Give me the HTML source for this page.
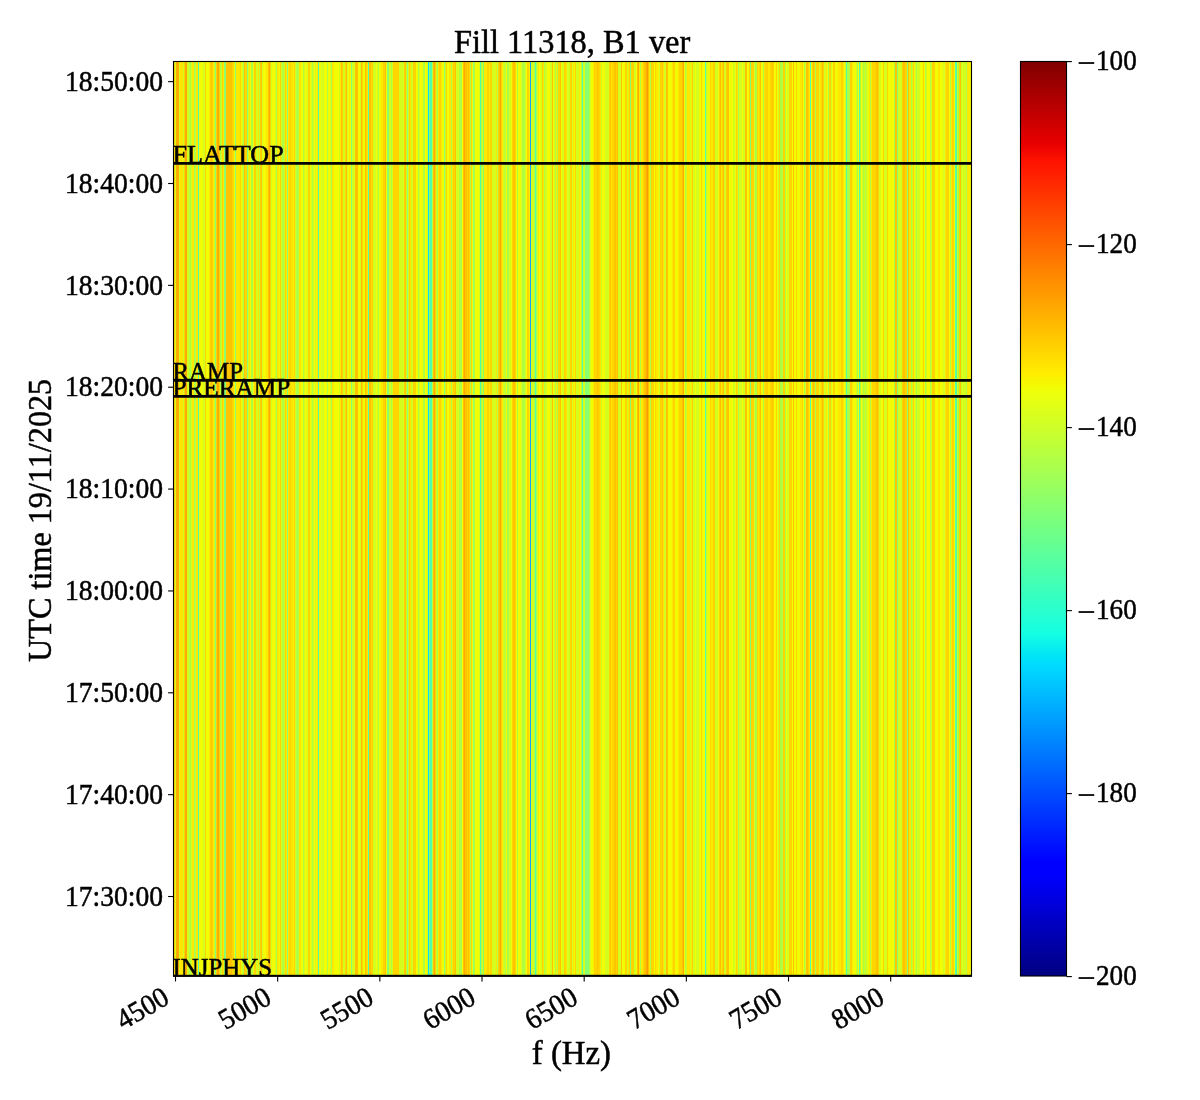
<!DOCTYPE html>
<html><head><meta charset="utf-8"><style>
html,body{margin:0;padding:0;background:#fff;}
body{width:1200px;height:1100px;overflow:hidden;position:relative;}
svg{display:block;position:absolute;left:0;top:0;font-family:"Liberation Serif", serif;}
text{fill:#000;stroke:#000;stroke-width:0.5px;}
.ov{will-change:transform;}
</style></head><body>
<svg width="1200" height="1100" viewBox="0 0 1200 1100">
<defs><linearGradient id="jet" x1="0" y1="0" x2="0" y2="1"><stop offset="0.0000" stop-color="#800000"/><stop offset="0.0900" stop-color="#e80000"/><stop offset="0.1100" stop-color="#ff1300"/><stop offset="0.3400" stop-color="#ffec00"/><stop offset="0.3500" stop-color="#f7f600"/><stop offset="0.3600" stop-color="#efff08"/><stop offset="0.6250" stop-color="#15ffe2"/><stop offset="0.6500" stop-color="#00e5f7"/><stop offset="0.6600" stop-color="#00dbff"/><stop offset="0.8750" stop-color="#0000ff"/><stop offset="0.8900" stop-color="#0000ff"/><stop offset="1.0000" stop-color="#000080"/></linearGradient></defs>
<rect x="0" y="0" width="1200" height="1100" fill="#fff"/>
<g shape-rendering="crispEdges"><rect x="174" y="62" width="1" height="913" fill="#ffd500"/><rect x="175" y="62" width="1" height="913" fill="#d4ff1e"/><rect x="176" y="62" width="3" height="913" fill="#ffac00"/><rect x="179" y="62" width="1" height="913" fill="#d4ff1e"/><rect x="180" y="62" width="3" height="913" fill="#ffe800"/><rect x="183" y="62" width="1" height="913" fill="#d4ff1e"/><rect x="184" y="62" width="1" height="913" fill="#ffd500"/><rect x="185" y="62" width="2" height="913" fill="#ffac00"/><rect x="187" y="62" width="2" height="913" fill="#d4ff1e"/><rect x="189" y="62" width="2" height="913" fill="#afff44"/><rect x="191" y="62" width="1" height="913" fill="#d4ff1e"/><rect x="192" y="62" width="2" height="913" fill="#ffe800"/><rect x="194" y="62" width="2" height="913" fill="#afff44"/><rect x="196" y="62" width="2" height="913" fill="#ffe800"/><rect x="198" y="62" width="1" height="913" fill="#50ffa8"/><rect x="199" y="62" width="4" height="913" fill="#f2fd03"/><rect x="203" y="62" width="2" height="913" fill="#d4ff1e"/><rect x="205" y="62" width="1" height="913" fill="#ffd500"/><rect x="206" y="62" width="3" height="913" fill="#f2fd03"/><rect x="209" y="62" width="1" height="913" fill="#ffe800"/><rect x="210" y="62" width="1" height="913" fill="#ffd500"/><rect x="211" y="62" width="1" height="913" fill="#ffc300"/><rect x="212" y="62" width="1" height="913" fill="#ffd500"/><rect x="213" y="62" width="1" height="913" fill="#ffe800"/><rect x="214" y="62" width="1" height="913" fill="#d4ff1e"/><rect x="215" y="62" width="1" height="913" fill="#8aff70"/><rect x="216" y="62" width="1" height="913" fill="#ffd500"/><rect x="217" y="62" width="2" height="913" fill="#ffac00"/><rect x="219" y="62" width="1" height="913" fill="#ffd500"/><rect x="220" y="62" width="1" height="913" fill="#afff44"/><rect x="221" y="62" width="1" height="913" fill="#d4ff1e"/><rect x="222" y="62" width="1" height="913" fill="#ffd500"/><rect x="223" y="62" width="1" height="913" fill="#ffe800"/><rect x="224" y="62" width="2" height="913" fill="#8aff70"/><rect x="226" y="62" width="6" height="913" fill="#ffc300"/><rect x="232" y="62" width="2" height="913" fill="#ffd500"/><rect x="234" y="62" width="1" height="913" fill="#f2fd03"/><rect x="235" y="62" width="1" height="913" fill="#8aff70"/><rect x="236" y="62" width="4" height="913" fill="#ffe800"/><rect x="240" y="62" width="1" height="913" fill="#ffd500"/><rect x="241" y="62" width="1" height="913" fill="#f2fd03"/><rect x="242" y="62" width="1" height="913" fill="#d4ff1e"/><rect x="243" y="62" width="1" height="913" fill="#afff44"/><rect x="244" y="62" width="1" height="913" fill="#ffc300"/><rect x="245" y="62" width="2" height="913" fill="#ffd500"/><rect x="247" y="62" width="1" height="913" fill="#8aff70"/><rect x="248" y="62" width="1" height="913" fill="#d4ff1e"/><rect x="249" y="62" width="1" height="913" fill="#ffe800"/><rect x="250" y="62" width="1" height="913" fill="#f2fd03"/><rect x="251" y="62" width="2" height="913" fill="#afff44"/><rect x="253" y="62" width="1" height="913" fill="#f2fd03"/><rect x="254" y="62" width="2" height="913" fill="#ffd500"/><rect x="256" y="62" width="2" height="913" fill="#d4ff1e"/><rect x="258" y="62" width="1" height="913" fill="#ffe800"/><rect x="259" y="62" width="1" height="913" fill="#afff44"/><rect x="260" y="62" width="1" height="913" fill="#ffd500"/><rect x="261" y="62" width="1" height="913" fill="#ffc300"/><rect x="262" y="62" width="1" height="913" fill="#d4ff1e"/><rect x="263" y="62" width="3" height="913" fill="#f2fd03"/><rect x="266" y="62" width="2" height="913" fill="#ffe800"/><rect x="268" y="62" width="1" height="913" fill="#ffc300"/><rect x="269" y="62" width="1" height="913" fill="#ffac00"/><rect x="270" y="62" width="1" height="913" fill="#ffd500"/><rect x="271" y="62" width="1" height="913" fill="#d4ff1e"/><rect x="272" y="62" width="3" height="913" fill="#f2fd03"/><rect x="275" y="62" width="1" height="913" fill="#d4ff1e"/><rect x="276" y="62" width="1" height="913" fill="#afff44"/><rect x="277" y="62" width="2" height="913" fill="#ffe800"/><rect x="279" y="62" width="1" height="913" fill="#f2fd03"/><rect x="280" y="62" width="1" height="913" fill="#ffd500"/><rect x="281" y="62" width="1" height="913" fill="#d4ff1e"/><rect x="282" y="62" width="2" height="913" fill="#afff44"/><rect x="284" y="62" width="1" height="913" fill="#d4ff1e"/><rect x="285" y="62" width="1" height="913" fill="#ffd500"/><rect x="286" y="62" width="1" height="913" fill="#ffe800"/><rect x="287" y="62" width="1" height="913" fill="#8aff70"/><rect x="288" y="62" width="1" height="913" fill="#ffe800"/><rect x="289" y="62" width="2" height="913" fill="#ffd500"/><rect x="291" y="62" width="3" height="913" fill="#ffe800"/><rect x="294" y="62" width="1" height="913" fill="#ffd500"/><rect x="295" y="62" width="1" height="913" fill="#d4ff1e"/><rect x="296" y="62" width="3" height="913" fill="#afff44"/><rect x="299" y="62" width="2" height="913" fill="#ffe800"/><rect x="301" y="62" width="2" height="913" fill="#f2fd03"/><rect x="303" y="62" width="1" height="913" fill="#afff44"/><rect x="304" y="62" width="1" height="913" fill="#d4ff1e"/><rect x="305" y="62" width="2" height="913" fill="#f2fd03"/><rect x="307" y="62" width="1" height="913" fill="#d4ff1e"/><rect x="308" y="62" width="2" height="913" fill="#ffd500"/><rect x="310" y="62" width="1" height="913" fill="#f2fd03"/><rect x="311" y="62" width="1" height="913" fill="#d4ff1e"/><rect x="312" y="62" width="1" height="913" fill="#afff44"/><rect x="313" y="62" width="1" height="913" fill="#d4ff1e"/><rect x="314" y="62" width="1" height="913" fill="#f2fd03"/><rect x="315" y="62" width="1" height="913" fill="#d4ff1e"/><rect x="316" y="62" width="1" height="913" fill="#f2fd03"/><rect x="317" y="62" width="1" height="913" fill="#ffe800"/><rect x="318" y="62" width="1" height="913" fill="#50ffa8"/><rect x="319" y="62" width="2" height="913" fill="#f2fd03"/><rect x="321" y="62" width="3" height="913" fill="#d4ff1e"/><rect x="324" y="62" width="3" height="913" fill="#f2fd03"/><rect x="327" y="62" width="1" height="913" fill="#afff44"/><rect x="328" y="62" width="2" height="913" fill="#f2fd03"/><rect x="330" y="62" width="1" height="913" fill="#d4ff1e"/><rect x="331" y="62" width="1" height="913" fill="#afff44"/><rect x="332" y="62" width="2" height="913" fill="#ffe800"/><rect x="334" y="62" width="5" height="913" fill="#f2fd03"/><rect x="339" y="62" width="1" height="913" fill="#d4ff1e"/><rect x="340" y="62" width="1" height="913" fill="#ffe800"/><rect x="341" y="62" width="1" height="913" fill="#ffc300"/><rect x="342" y="62" width="1" height="913" fill="#ffd500"/><rect x="343" y="62" width="2" height="913" fill="#d4ff1e"/><rect x="345" y="62" width="1" height="913" fill="#ffd500"/><rect x="346" y="62" width="1" height="913" fill="#ffc300"/><rect x="347" y="62" width="1" height="913" fill="#d4ff1e"/><rect x="348" y="62" width="1" height="913" fill="#f2fd03"/><rect x="349" y="62" width="1" height="913" fill="#ffe800"/><rect x="350" y="62" width="1" height="913" fill="#f2fd03"/><rect x="351" y="62" width="1" height="913" fill="#8aff70"/><rect x="352" y="62" width="3" height="913" fill="#d4ff1e"/><rect x="355" y="62" width="3" height="913" fill="#ffc300"/><rect x="358" y="62" width="2" height="913" fill="#f2fd03"/><rect x="360" y="62" width="1" height="913" fill="#d4ff1e"/><rect x="361" y="62" width="1" height="913" fill="#ffc300"/><rect x="362" y="62" width="1" height="913" fill="#ffd500"/><rect x="363" y="62" width="2" height="913" fill="#f2fd03"/><rect x="365" y="62" width="1" height="913" fill="#ffc300"/><rect x="366" y="62" width="1" height="913" fill="#ffd500"/><rect x="367" y="62" width="1" height="913" fill="#ffe800"/><rect x="368" y="62" width="1" height="913" fill="#50ffa8"/><rect x="369" y="62" width="2" height="913" fill="#ffc300"/><rect x="371" y="62" width="2" height="913" fill="#ffd500"/><rect x="373" y="62" width="3" height="913" fill="#d4ff1e"/><rect x="376" y="62" width="1" height="913" fill="#f2fd03"/><rect x="377" y="62" width="1" height="913" fill="#d4ff1e"/><rect x="378" y="62" width="1" height="913" fill="#afff44"/><rect x="379" y="62" width="2" height="913" fill="#f2fd03"/><rect x="381" y="62" width="2" height="913" fill="#ffe800"/><rect x="383" y="62" width="2" height="913" fill="#ffd500"/><rect x="385" y="62" width="1" height="913" fill="#ffc300"/><rect x="386" y="62" width="1" height="913" fill="#f2fd03"/><rect x="387" y="62" width="2" height="913" fill="#8aff70"/><rect x="389" y="62" width="2" height="913" fill="#d4ff1e"/><rect x="391" y="62" width="1" height="913" fill="#afff44"/><rect x="392" y="62" width="1" height="913" fill="#d4ff1e"/><rect x="393" y="62" width="6" height="913" fill="#ffd500"/><rect x="399" y="62" width="5" height="913" fill="#d4ff1e"/><rect x="404" y="62" width="1" height="913" fill="#ffd500"/><rect x="405" y="62" width="1" height="913" fill="#ffc300"/><rect x="406" y="62" width="1" height="913" fill="#d4ff1e"/><rect x="407" y="62" width="1" height="913" fill="#8aff70"/><rect x="408" y="62" width="1" height="913" fill="#d4ff1e"/><rect x="409" y="62" width="1" height="913" fill="#ffd500"/><rect x="410" y="62" width="1" height="913" fill="#ffe800"/><rect x="411" y="62" width="2" height="913" fill="#d4ff1e"/><rect x="413" y="62" width="3" height="913" fill="#ffd500"/><rect x="416" y="62" width="2" height="913" fill="#f2fd03"/><rect x="418" y="62" width="1" height="913" fill="#afff44"/><rect x="419" y="62" width="1" height="913" fill="#d4ff1e"/><rect x="420" y="62" width="3" height="913" fill="#f2fd03"/><rect x="423" y="62" width="2" height="913" fill="#afff44"/><rect x="425" y="62" width="2" height="913" fill="#f2fd03"/><rect x="427" y="62" width="1" height="913" fill="#d4ff1e"/><rect x="428" y="62" width="1" height="913" fill="#00e1fa"/><rect x="429" y="62" width="1" height="913" fill="#8aff70"/><rect x="430" y="62" width="2" height="913" fill="#50ffa8"/><rect x="432" y="62" width="1" height="913" fill="#afff44"/><rect x="433" y="62" width="1" height="913" fill="#ffc300"/><rect x="434" y="62" width="1" height="913" fill="#ffac00"/><rect x="435" y="62" width="1" height="913" fill="#ffd500"/><rect x="436" y="62" width="1" height="913" fill="#d4ff1e"/><rect x="437" y="62" width="1" height="913" fill="#afff44"/><rect x="438" y="62" width="1" height="913" fill="#ffe800"/><rect x="439" y="62" width="2" height="913" fill="#ffd500"/><rect x="441" y="62" width="1" height="913" fill="#ffe800"/><rect x="442" y="62" width="2" height="913" fill="#f2fd03"/><rect x="444" y="62" width="1" height="913" fill="#8aff70"/><rect x="445" y="62" width="1" height="913" fill="#d4ff1e"/><rect x="446" y="62" width="1" height="913" fill="#ffd500"/><rect x="447" y="62" width="2" height="913" fill="#f2fd03"/><rect x="449" y="62" width="2" height="913" fill="#ffe800"/><rect x="451" y="62" width="1" height="913" fill="#afff44"/><rect x="452" y="62" width="1" height="913" fill="#ffe800"/><rect x="453" y="62" width="2" height="913" fill="#ffd500"/><rect x="455" y="62" width="1" height="913" fill="#ffc300"/><rect x="456" y="62" width="3" height="913" fill="#d4ff1e"/><rect x="459" y="62" width="3" height="913" fill="#afff44"/><rect x="462" y="62" width="1" height="913" fill="#f2fd03"/><rect x="463" y="62" width="1" height="913" fill="#ffc300"/><rect x="464" y="62" width="1" height="913" fill="#ffac00"/><rect x="465" y="62" width="2" height="913" fill="#ffc300"/><rect x="467" y="62" width="1" height="913" fill="#ffd500"/><rect x="468" y="62" width="1" height="913" fill="#ffc300"/><rect x="469" y="62" width="1" height="913" fill="#ffd500"/><rect x="470" y="62" width="1" height="913" fill="#afff44"/><rect x="471" y="62" width="1" height="913" fill="#ffd500"/><rect x="472" y="62" width="1" height="913" fill="#f2fd03"/><rect x="473" y="62" width="1" height="913" fill="#8aff70"/><rect x="474" y="62" width="1" height="913" fill="#afff44"/><rect x="475" y="62" width="4" height="913" fill="#f2fd03"/><rect x="479" y="62" width="1" height="913" fill="#d4ff1e"/><rect x="480" y="62" width="1" height="913" fill="#50ffa8"/><rect x="481" y="62" width="1" height="913" fill="#afff44"/><rect x="482" y="62" width="1" height="913" fill="#d4ff1e"/><rect x="483" y="62" width="1" height="913" fill="#8aff70"/><rect x="484" y="62" width="3" height="913" fill="#ffe800"/><rect x="487" y="62" width="2" height="913" fill="#ffd500"/><rect x="489" y="62" width="1" height="913" fill="#ffe800"/><rect x="490" y="62" width="2" height="913" fill="#ffd500"/><rect x="492" y="62" width="4" height="913" fill="#d4ff1e"/><rect x="496" y="62" width="1" height="913" fill="#ffe800"/><rect x="497" y="62" width="1" height="913" fill="#afff44"/><rect x="498" y="62" width="1" height="913" fill="#ffd500"/><rect x="499" y="62" width="1" height="913" fill="#ffc300"/><rect x="500" y="62" width="1" height="913" fill="#ffac00"/><rect x="501" y="62" width="1" height="913" fill="#ffd500"/><rect x="502" y="62" width="1" height="913" fill="#ffe800"/><rect x="503" y="62" width="2" height="913" fill="#d4ff1e"/><rect x="505" y="62" width="1" height="913" fill="#afff44"/><rect x="506" y="62" width="1" height="913" fill="#f2fd03"/><rect x="507" y="62" width="2" height="913" fill="#afff44"/><rect x="509" y="62" width="2" height="913" fill="#d4ff1e"/><rect x="511" y="62" width="1" height="913" fill="#f2fd03"/><rect x="512" y="62" width="1" height="913" fill="#ffd500"/><rect x="513" y="62" width="2" height="913" fill="#ffc300"/><rect x="515" y="62" width="1" height="913" fill="#ffd500"/><rect x="516" y="62" width="1" height="913" fill="#f2fd03"/><rect x="517" y="62" width="1" height="913" fill="#afff44"/><rect x="518" y="62" width="3" height="913" fill="#f2fd03"/><rect x="521" y="62" width="1" height="913" fill="#d4ff1e"/><rect x="522" y="62" width="3" height="913" fill="#afff44"/><rect x="525" y="62" width="1" height="913" fill="#d4ff1e"/><rect x="526" y="62" width="1" height="913" fill="#f2fd03"/><rect x="527" y="62" width="2" height="913" fill="#ffd500"/><rect x="529" y="62" width="1" height="913" fill="#ffe800"/><rect x="530" y="62" width="1" height="913" fill="#0aaafa"/><rect x="531" y="62" width="3" height="913" fill="#d4ff1e"/><rect x="534" y="62" width="1" height="913" fill="#afff44"/><rect x="535" y="62" width="1" height="913" fill="#50ffa8"/><rect x="536" y="62" width="1" height="913" fill="#afff44"/><rect x="537" y="62" width="1" height="913" fill="#d4ff1e"/><rect x="538" y="62" width="1" height="913" fill="#ffe800"/><rect x="539" y="62" width="2" height="913" fill="#f2fd03"/><rect x="541" y="62" width="1" height="913" fill="#d4ff1e"/><rect x="542" y="62" width="1" height="913" fill="#ffd500"/><rect x="543" y="62" width="1" height="913" fill="#ffe800"/><rect x="544" y="62" width="1" height="913" fill="#afff44"/><rect x="545" y="62" width="2" height="913" fill="#d4ff1e"/><rect x="547" y="62" width="3" height="913" fill="#f2fd03"/><rect x="550" y="62" width="2" height="913" fill="#d4ff1e"/><rect x="552" y="62" width="1" height="913" fill="#ffc300"/><rect x="553" y="62" width="1" height="913" fill="#f2fd03"/><rect x="554" y="62" width="1" height="913" fill="#d4ff1e"/><rect x="555" y="62" width="1" height="913" fill="#afff44"/><rect x="556" y="62" width="1" height="913" fill="#ffe800"/><rect x="557" y="62" width="1" height="913" fill="#afff44"/><rect x="558" y="62" width="2" height="913" fill="#ffd500"/><rect x="560" y="62" width="1" height="913" fill="#ffc300"/><rect x="561" y="62" width="1" height="913" fill="#f2fd03"/><rect x="562" y="62" width="2" height="913" fill="#d4ff1e"/><rect x="564" y="62" width="2" height="913" fill="#ffd500"/><rect x="566" y="62" width="1" height="913" fill="#ffe800"/><rect x="567" y="62" width="3" height="913" fill="#d4ff1e"/><rect x="570" y="62" width="2" height="913" fill="#ffd500"/><rect x="572" y="62" width="1" height="913" fill="#d4ff1e"/><rect x="573" y="62" width="1" height="913" fill="#ffe800"/><rect x="574" y="62" width="1" height="913" fill="#f2fd03"/><rect x="575" y="62" width="1" height="913" fill="#ffd500"/><rect x="576" y="62" width="3" height="913" fill="#d4ff1e"/><rect x="579" y="62" width="1" height="913" fill="#ffe800"/><rect x="580" y="62" width="1" height="913" fill="#f2fd03"/><rect x="581" y="62" width="1" height="913" fill="#afff44"/><rect x="582" y="62" width="1" height="913" fill="#50ffa8"/><rect x="583" y="62" width="2" height="913" fill="#d4ff1e"/><rect x="585" y="62" width="4" height="913" fill="#8aff70"/><rect x="589" y="62" width="1" height="913" fill="#afff44"/><rect x="590" y="62" width="1" height="913" fill="#d4ff1e"/><rect x="591" y="62" width="2" height="913" fill="#f2fd03"/><rect x="593" y="62" width="1" height="913" fill="#ffe800"/><rect x="594" y="62" width="3" height="913" fill="#ffd500"/><rect x="597" y="62" width="1" height="913" fill="#ffc300"/><rect x="598" y="62" width="2" height="913" fill="#ffd500"/><rect x="600" y="62" width="1" height="913" fill="#ffe800"/><rect x="601" y="62" width="1" height="913" fill="#d4ff1e"/><rect x="602" y="62" width="3" height="913" fill="#f2fd03"/><rect x="605" y="62" width="4" height="913" fill="#d4ff1e"/><rect x="609" y="62" width="1" height="913" fill="#ffd500"/><rect x="610" y="62" width="1" height="913" fill="#ffc300"/><rect x="611" y="62" width="1" height="913" fill="#ffe800"/><rect x="612" y="62" width="2" height="913" fill="#ffd500"/><rect x="614" y="62" width="2" height="913" fill="#ffc300"/><rect x="616" y="62" width="1" height="913" fill="#ffd500"/><rect x="617" y="62" width="1" height="913" fill="#ffc300"/><rect x="618" y="62" width="3" height="913" fill="#d4ff1e"/><rect x="621" y="62" width="1" height="913" fill="#ffc300"/><rect x="622" y="62" width="3" height="913" fill="#f2fd03"/><rect x="625" y="62" width="2" height="913" fill="#ffd500"/><rect x="627" y="62" width="1" height="913" fill="#d4ff1e"/><rect x="628" y="62" width="1" height="913" fill="#ffe800"/><rect x="629" y="62" width="1" height="913" fill="#ffd500"/><rect x="630" y="62" width="1" height="913" fill="#8aff70"/><rect x="631" y="62" width="3" height="913" fill="#ffd500"/><rect x="634" y="62" width="2" height="913" fill="#d4ff1e"/><rect x="636" y="62" width="1" height="913" fill="#f2fd03"/><rect x="637" y="62" width="1" height="913" fill="#ffc300"/><rect x="638" y="62" width="1" height="913" fill="#ffac00"/><rect x="639" y="62" width="1" height="913" fill="#ffe800"/><rect x="640" y="62" width="1" height="913" fill="#afff44"/><rect x="641" y="62" width="2" height="913" fill="#ffe800"/><rect x="643" y="62" width="1" height="913" fill="#ffd500"/><rect x="644" y="62" width="2" height="913" fill="#ffc300"/><rect x="646" y="62" width="1" height="913" fill="#ffac00"/><rect x="647" y="62" width="1" height="913" fill="#ff9b00"/><rect x="648" y="62" width="1" height="913" fill="#ffc300"/><rect x="649" y="62" width="1" height="913" fill="#ffe800"/><rect x="650" y="62" width="1" height="913" fill="#afff44"/><rect x="651" y="62" width="3" height="913" fill="#ffd500"/><rect x="654" y="62" width="1" height="913" fill="#f2fd03"/><rect x="655" y="62" width="1" height="913" fill="#ffd500"/><rect x="656" y="62" width="2" height="913" fill="#ffe800"/><rect x="658" y="62" width="1" height="913" fill="#f2fd03"/><rect x="659" y="62" width="1" height="913" fill="#d4ff1e"/><rect x="660" y="62" width="2" height="913" fill="#ffd500"/><rect x="662" y="62" width="1" height="913" fill="#ffc300"/><rect x="663" y="62" width="1" height="913" fill="#ffe800"/><rect x="664" y="62" width="2" height="913" fill="#d4ff1e"/><rect x="666" y="62" width="2" height="913" fill="#ffc300"/><rect x="668" y="62" width="4" height="913" fill="#f2fd03"/><rect x="672" y="62" width="1" height="913" fill="#ffe800"/><rect x="673" y="62" width="2" height="913" fill="#ffd500"/><rect x="675" y="62" width="3" height="913" fill="#f2fd03"/><rect x="678" y="62" width="1" height="913" fill="#ffe800"/><rect x="679" y="62" width="3" height="913" fill="#ffd500"/><rect x="682" y="62" width="1" height="913" fill="#ffc300"/><rect x="683" y="62" width="1" height="913" fill="#ffac00"/><rect x="684" y="62" width="1" height="913" fill="#f2fd03"/><rect x="685" y="62" width="1" height="913" fill="#afff44"/><rect x="686" y="62" width="1" height="913" fill="#d4ff1e"/><rect x="687" y="62" width="3" height="913" fill="#ffe800"/><rect x="690" y="62" width="1" height="913" fill="#d4ff1e"/><rect x="691" y="62" width="1" height="913" fill="#ffe800"/><rect x="692" y="62" width="1" height="913" fill="#ffd500"/><rect x="693" y="62" width="2" height="913" fill="#d4ff1e"/><rect x="695" y="62" width="1" height="913" fill="#f2fd03"/><rect x="696" y="62" width="3" height="913" fill="#d4ff1e"/><rect x="699" y="62" width="2" height="913" fill="#f2fd03"/><rect x="701" y="62" width="1" height="913" fill="#ffd500"/><rect x="702" y="62" width="3" height="913" fill="#f2fd03"/><rect x="705" y="62" width="1" height="913" fill="#50ffa8"/><rect x="706" y="62" width="2" height="913" fill="#d4ff1e"/><rect x="708" y="62" width="2" height="913" fill="#f2fd03"/><rect x="710" y="62" width="1" height="913" fill="#ffd500"/><rect x="711" y="62" width="2" height="913" fill="#ffe800"/><rect x="713" y="62" width="2" height="913" fill="#ffd500"/><rect x="715" y="62" width="3" height="913" fill="#d4ff1e"/><rect x="718" y="62" width="1" height="913" fill="#f2fd03"/><rect x="719" y="62" width="1" height="913" fill="#ffd500"/><rect x="720" y="62" width="1" height="913" fill="#ffc300"/><rect x="721" y="62" width="1" height="913" fill="#ffe800"/><rect x="722" y="62" width="1" height="913" fill="#ffd500"/><rect x="723" y="62" width="1" height="913" fill="#ffc300"/><rect x="724" y="62" width="2" height="913" fill="#d4ff1e"/><rect x="726" y="62" width="1" height="913" fill="#ffd500"/><rect x="727" y="62" width="2" height="913" fill="#ffc300"/><rect x="729" y="62" width="4" height="913" fill="#f2fd03"/><rect x="733" y="62" width="2" height="913" fill="#d4ff1e"/><rect x="735" y="62" width="1" height="913" fill="#f2fd03"/><rect x="736" y="62" width="1" height="913" fill="#ffd500"/><rect x="737" y="62" width="1" height="913" fill="#ffe800"/><rect x="738" y="62" width="1" height="913" fill="#afff44"/><rect x="739" y="62" width="3" height="913" fill="#d4ff1e"/><rect x="742" y="62" width="1" height="913" fill="#f2fd03"/><rect x="743" y="62" width="2" height="913" fill="#d4ff1e"/><rect x="745" y="62" width="2" height="913" fill="#ffc300"/><rect x="747" y="62" width="2" height="913" fill="#f2fd03"/><rect x="749" y="62" width="1" height="913" fill="#ffd500"/><rect x="750" y="62" width="1" height="913" fill="#8aff70"/><rect x="751" y="62" width="3" height="913" fill="#ffd500"/><rect x="754" y="62" width="1" height="913" fill="#d4ff1e"/><rect x="755" y="62" width="2" height="913" fill="#afff44"/><rect x="757" y="62" width="1" height="913" fill="#ffd500"/><rect x="758" y="62" width="1" height="913" fill="#ffe800"/><rect x="759" y="62" width="1" height="913" fill="#ffd500"/><rect x="760" y="62" width="1" height="913" fill="#ffc300"/><rect x="761" y="62" width="2" height="913" fill="#f2fd03"/><rect x="763" y="62" width="1" height="913" fill="#afff44"/><rect x="764" y="62" width="1" height="913" fill="#ffe800"/><rect x="765" y="62" width="3" height="913" fill="#ffd500"/><rect x="768" y="62" width="2" height="913" fill="#ffe800"/><rect x="770" y="62" width="2" height="913" fill="#ffd500"/><rect x="772" y="62" width="1" height="913" fill="#ffc300"/><rect x="773" y="62" width="1" height="913" fill="#ffd500"/><rect x="774" y="62" width="2" height="913" fill="#f2fd03"/><rect x="776" y="62" width="1" height="913" fill="#ffd500"/><rect x="777" y="62" width="1" height="913" fill="#f2fd03"/><rect x="778" y="62" width="1" height="913" fill="#d4ff1e"/><rect x="779" y="62" width="1" height="913" fill="#ffd500"/><rect x="780" y="62" width="3" height="913" fill="#afff44"/><rect x="783" y="62" width="2" height="913" fill="#ffd500"/><rect x="785" y="62" width="1" height="913" fill="#afff44"/><rect x="786" y="62" width="1" height="913" fill="#f2fd03"/><rect x="787" y="62" width="2" height="913" fill="#d4ff1e"/><rect x="789" y="62" width="3" height="913" fill="#ffd500"/><rect x="792" y="62" width="1" height="913" fill="#f2fd03"/><rect x="793" y="62" width="1" height="913" fill="#ffc300"/><rect x="794" y="62" width="2" height="913" fill="#f2fd03"/><rect x="796" y="62" width="1" height="913" fill="#ffd500"/><rect x="797" y="62" width="3" height="913" fill="#f2fd03"/><rect x="800" y="62" width="2" height="913" fill="#ffe800"/><rect x="802" y="62" width="1" height="913" fill="#ffd500"/><rect x="803" y="62" width="1" height="913" fill="#f2fd03"/><rect x="804" y="62" width="1" height="913" fill="#afff44"/><rect x="805" y="62" width="1" height="913" fill="#d4ff1e"/><rect x="806" y="62" width="2" height="913" fill="#ffc300"/><rect x="808" y="62" width="1" height="913" fill="#ffd500"/><rect x="809" y="62" width="1" height="913" fill="#ffe800"/><rect x="810" y="62" width="1" height="913" fill="#50ffa8"/><rect x="811" y="62" width="1" height="913" fill="#f2fd03"/><rect x="812" y="62" width="1" height="913" fill="#ffd500"/><rect x="813" y="62" width="1" height="913" fill="#ffc300"/><rect x="814" y="62" width="1" height="913" fill="#ffd500"/><rect x="815" y="62" width="1" height="913" fill="#afff44"/><rect x="816" y="62" width="3" height="913" fill="#ffd500"/><rect x="819" y="62" width="1" height="913" fill="#d4ff1e"/><rect x="820" y="62" width="1" height="913" fill="#ffe800"/><rect x="821" y="62" width="1" height="913" fill="#ffd500"/><rect x="822" y="62" width="1" height="913" fill="#ffc300"/><rect x="823" y="62" width="1" height="913" fill="#ffd500"/><rect x="824" y="62" width="2" height="913" fill="#d4ff1e"/><rect x="826" y="62" width="1" height="913" fill="#ffe800"/><rect x="827" y="62" width="1" height="913" fill="#f2fd03"/><rect x="828" y="62" width="1" height="913" fill="#afff44"/><rect x="829" y="62" width="2" height="913" fill="#ffd500"/><rect x="831" y="62" width="1" height="913" fill="#d4ff1e"/><rect x="832" y="62" width="1" height="913" fill="#f2fd03"/><rect x="833" y="62" width="2" height="913" fill="#ffd500"/><rect x="835" y="62" width="3" height="913" fill="#f2fd03"/><rect x="838" y="62" width="3" height="913" fill="#ffe800"/><rect x="841" y="62" width="2" height="913" fill="#ffd500"/><rect x="843" y="62" width="1" height="913" fill="#ffe800"/><rect x="844" y="62" width="1" height="913" fill="#f2fd03"/><rect x="845" y="62" width="1" height="913" fill="#d4ff1e"/><rect x="846" y="62" width="1" height="913" fill="#50ffa8"/><rect x="847" y="62" width="3" height="913" fill="#afff44"/><rect x="850" y="62" width="2" height="913" fill="#ffd500"/><rect x="852" y="62" width="1" height="913" fill="#ffe800"/><rect x="853" y="62" width="3" height="913" fill="#f2fd03"/><rect x="856" y="62" width="1" height="913" fill="#d4ff1e"/><rect x="857" y="62" width="1" height="913" fill="#afff44"/><rect x="858" y="62" width="1" height="913" fill="#f2fd03"/><rect x="859" y="62" width="1" height="913" fill="#50ffa8"/><rect x="860" y="62" width="1" height="913" fill="#afff44"/><rect x="861" y="62" width="1" height="913" fill="#f2fd03"/><rect x="862" y="62" width="1" height="913" fill="#d4ff1e"/><rect x="863" y="62" width="1" height="913" fill="#afff44"/><rect x="864" y="62" width="1" height="913" fill="#d4ff1e"/><rect x="865" y="62" width="1" height="913" fill="#afff44"/><rect x="866" y="62" width="2" height="913" fill="#d4ff1e"/><rect x="868" y="62" width="1" height="913" fill="#f2fd03"/><rect x="869" y="62" width="1" height="913" fill="#ffe800"/><rect x="870" y="62" width="1" height="913" fill="#afff44"/><rect x="871" y="62" width="1" height="913" fill="#ffe800"/><rect x="872" y="62" width="4" height="913" fill="#ffd500"/><rect x="876" y="62" width="2" height="913" fill="#ffc300"/><rect x="878" y="62" width="1" height="913" fill="#ffd500"/><rect x="879" y="62" width="2" height="913" fill="#d4ff1e"/><rect x="881" y="62" width="2" height="913" fill="#f2fd03"/><rect x="883" y="62" width="1" height="913" fill="#ffd500"/><rect x="884" y="62" width="3" height="913" fill="#d4ff1e"/><rect x="887" y="62" width="1" height="913" fill="#ffd500"/><rect x="888" y="62" width="6" height="913" fill="#f2fd03"/><rect x="894" y="62" width="1" height="913" fill="#afff44"/><rect x="895" y="62" width="2" height="913" fill="#ffc300"/><rect x="897" y="62" width="1" height="913" fill="#8aff70"/><rect x="898" y="62" width="4" height="913" fill="#d4ff1e"/><rect x="902" y="62" width="1" height="913" fill="#ffd500"/><rect x="903" y="62" width="2" height="913" fill="#ffc300"/><rect x="905" y="62" width="2" height="913" fill="#ffd500"/><rect x="907" y="62" width="1" height="913" fill="#8aff70"/><rect x="908" y="62" width="1" height="913" fill="#ffc300"/><rect x="909" y="62" width="2" height="913" fill="#ffe800"/><rect x="911" y="62" width="1" height="913" fill="#afff44"/><rect x="912" y="62" width="1" height="913" fill="#d4ff1e"/><rect x="913" y="62" width="1" height="913" fill="#ffd500"/><rect x="914" y="62" width="1" height="913" fill="#f2fd03"/><rect x="915" y="62" width="1" height="913" fill="#d4ff1e"/><rect x="916" y="62" width="1" height="913" fill="#afff44"/><rect x="917" y="62" width="3" height="913" fill="#d4ff1e"/><rect x="920" y="62" width="3" height="913" fill="#f2fd03"/><rect x="923" y="62" width="1" height="913" fill="#ffd500"/><rect x="924" y="62" width="1" height="913" fill="#f2fd03"/><rect x="925" y="62" width="1" height="913" fill="#afff44"/><rect x="926" y="62" width="1" height="913" fill="#d4ff1e"/><rect x="927" y="62" width="3" height="913" fill="#f2fd03"/><rect x="930" y="62" width="1" height="913" fill="#afff44"/><rect x="931" y="62" width="1" height="913" fill="#d4ff1e"/><rect x="932" y="62" width="3" height="913" fill="#ffd500"/><rect x="935" y="62" width="3" height="913" fill="#f2fd03"/><rect x="938" y="62" width="2" height="913" fill="#ffe800"/><rect x="940" y="62" width="3" height="913" fill="#f2fd03"/><rect x="943" y="62" width="2" height="913" fill="#d4ff1e"/><rect x="945" y="62" width="1" height="913" fill="#ffe800"/><rect x="946" y="62" width="3" height="913" fill="#ffd500"/><rect x="949" y="62" width="1" height="913" fill="#f2fd03"/><rect x="950" y="62" width="1" height="913" fill="#afff44"/><rect x="951" y="62" width="1" height="913" fill="#ffe800"/><rect x="952" y="62" width="2" height="913" fill="#ffd500"/><rect x="954" y="62" width="1" height="913" fill="#f2fd03"/><rect x="955" y="62" width="2" height="913" fill="#50ffa8"/><rect x="957" y="62" width="1" height="913" fill="#d4ff1e"/><rect x="958" y="62" width="1" height="913" fill="#afff44"/><rect x="959" y="62" width="1" height="913" fill="#ffd500"/><rect x="960" y="62" width="1" height="913" fill="#ffc300"/><rect x="961" y="62" width="5" height="913" fill="#d4ff1e"/><rect x="966" y="62" width="1" height="913" fill="#afff44"/><rect x="967" y="62" width="3" height="913" fill="#ffe800"/><rect x="970" y="62" width="1" height="913" fill="#f2fd03"/></g>
<g stroke="#000" stroke-width="2.78">
<line x1="174" y1="163.3" x2="971" y2="163.3"/>
<line x1="174" y1="380.4" x2="971" y2="380.4"/>
<line x1="174" y1="396.3" x2="971" y2="396.3"/>
</g>
<rect x="173" y="974.8" width="799" height="2" fill="#000"/>
<rect x="173.5" y="61.5" width="798" height="914.5" fill="none" stroke="#000" stroke-width="1.11"/>
<g stroke="#000" stroke-width="1.11"><line x1="168.1" y1="81.64" x2="173.5" y2="81.64"/><line x1="168.1" y1="183.50" x2="173.5" y2="183.50"/><line x1="168.1" y1="285.36" x2="173.5" y2="285.36"/><line x1="168.1" y1="387.22" x2="173.5" y2="387.22"/><line x1="168.1" y1="489.08" x2="173.5" y2="489.08"/><line x1="168.1" y1="590.94" x2="173.5" y2="590.94"/><line x1="168.1" y1="692.80" x2="173.5" y2="692.80"/><line x1="168.1" y1="794.66" x2="173.5" y2="794.66"/><line x1="168.1" y1="896.52" x2="173.5" y2="896.52"/><line x1="175.50" y1="976.5" x2="175.50" y2="981.5"/><line x1="277.67" y1="976.5" x2="277.67" y2="981.5"/><line x1="379.84" y1="976.5" x2="379.84" y2="981.5"/><line x1="482.01" y1="976.5" x2="482.01" y2="981.5"/><line x1="584.18" y1="976.5" x2="584.18" y2="981.5"/><line x1="686.35" y1="976.5" x2="686.35" y2="981.5"/><line x1="788.52" y1="976.5" x2="788.52" y2="981.5"/><line x1="890.69" y1="976.5" x2="890.69" y2="981.5"/><line x1="1066.5" y1="61.60" x2="1071.9" y2="61.60"/><rect x="1078.6" y="62.15" width="15.6" height="1.75" fill="#000" stroke="none"/><line x1="1066.5" y1="244.60" x2="1071.9" y2="244.60"/><rect x="1078.6" y="245.15" width="15.6" height="1.75" fill="#000" stroke="none"/><line x1="1066.5" y1="427.60" x2="1071.9" y2="427.60"/><rect x="1078.6" y="428.15" width="15.6" height="1.75" fill="#000" stroke="none"/><line x1="1066.5" y1="610.60" x2="1071.9" y2="610.60"/><rect x="1078.6" y="611.15" width="15.6" height="1.75" fill="#000" stroke="none"/><line x1="1066.5" y1="793.60" x2="1071.9" y2="793.60"/><rect x="1078.6" y="794.15" width="15.6" height="1.75" fill="#000" stroke="none"/><line x1="1066.5" y1="976.60" x2="1071.9" y2="976.60"/><rect x="1078.6" y="977.15" width="15.6" height="1.75" fill="#000" stroke="none"/></g>
<rect x="1020.5" y="61.5" width="46" height="914.5" fill="url(#jet)"/>
<rect x="1020.5" y="61.5" width="46" height="914.5" fill="none" stroke="#000" stroke-width="1.11"/>
</svg>
<svg class="ov" width="1200" height="1100" viewBox="0 0 1200 1100">
<text x="172.50" y="163.10" font-size="24.70" textLength="111.20" lengthAdjust="spacingAndGlyphs">FLATTOP</text><text x="172.50" y="380.35" font-size="24.70" textLength="70.60" lengthAdjust="spacingAndGlyphs">RAMP</text><text x="172.50" y="396.20" font-size="24.70" textLength="117.80" lengthAdjust="spacingAndGlyphs">PRERAMP</text><text x="172.50" y="976.20" font-size="24.70" textLength="99.60" lengthAdjust="spacingAndGlyphs">INJPHYS</text>
<text x="163.00" y="90.84" font-size="29.00" text-anchor="end" textLength="98.10" lengthAdjust="spacingAndGlyphs">18:50:00</text><text x="163.00" y="192.70" font-size="29.00" text-anchor="end" textLength="98.10" lengthAdjust="spacingAndGlyphs">18:40:00</text><text x="163.00" y="294.56" font-size="29.00" text-anchor="end" textLength="98.10" lengthAdjust="spacingAndGlyphs">18:30:00</text><text x="163.00" y="396.42" font-size="29.00" text-anchor="end" textLength="98.10" lengthAdjust="spacingAndGlyphs">18:20:00</text><text x="163.00" y="498.28" font-size="29.00" text-anchor="end" textLength="98.10" lengthAdjust="spacingAndGlyphs">18:10:00</text><text x="163.00" y="600.14" font-size="29.00" text-anchor="end" textLength="98.10" lengthAdjust="spacingAndGlyphs">18:00:00</text><text x="163.00" y="702.00" font-size="29.00" text-anchor="end" textLength="98.10" lengthAdjust="spacingAndGlyphs">17:50:00</text><text x="163.00" y="803.86" font-size="29.00" text-anchor="end" textLength="98.10" lengthAdjust="spacingAndGlyphs">17:40:00</text><text x="163.00" y="905.72" font-size="29.00" text-anchor="end" textLength="98.10" lengthAdjust="spacingAndGlyphs">17:30:00</text><text transform="translate(171.00 1002.70) rotate(-30)" text-anchor="end" font-size="29.00" textLength="55.00" lengthAdjust="spacingAndGlyphs">4500</text><text transform="translate(273.17 1002.70) rotate(-30)" text-anchor="end" font-size="29.00" textLength="55.00" lengthAdjust="spacingAndGlyphs">5000</text><text transform="translate(375.34 1002.70) rotate(-30)" text-anchor="end" font-size="29.00" textLength="55.00" lengthAdjust="spacingAndGlyphs">5500</text><text transform="translate(477.51 1002.70) rotate(-30)" text-anchor="end" font-size="29.00" textLength="55.00" lengthAdjust="spacingAndGlyphs">6000</text><text transform="translate(579.68 1002.70) rotate(-30)" text-anchor="end" font-size="29.00" textLength="55.00" lengthAdjust="spacingAndGlyphs">6500</text><text transform="translate(681.85 1002.70) rotate(-30)" text-anchor="end" font-size="29.00" textLength="55.00" lengthAdjust="spacingAndGlyphs">7000</text><text transform="translate(784.02 1002.70) rotate(-30)" text-anchor="end" font-size="29.00" textLength="55.00" lengthAdjust="spacingAndGlyphs">7500</text><text transform="translate(886.19 1002.70) rotate(-30)" text-anchor="end" font-size="29.00" textLength="55.00" lengthAdjust="spacingAndGlyphs">8000</text><text x="1096.00" y="70.10" font-size="29.00" textLength="40.70" lengthAdjust="spacingAndGlyphs">100</text><text x="1096.00" y="253.10" font-size="29.00" textLength="40.70" lengthAdjust="spacingAndGlyphs">120</text><text x="1096.00" y="436.10" font-size="29.00" textLength="40.70" lengthAdjust="spacingAndGlyphs">140</text><text x="1096.00" y="619.10" font-size="29.00" textLength="40.70" lengthAdjust="spacingAndGlyphs">160</text><text x="1096.00" y="802.10" font-size="29.00" textLength="40.70" lengthAdjust="spacingAndGlyphs">180</text><text x="1096.00" y="985.10" font-size="29.00" textLength="40.70" lengthAdjust="spacingAndGlyphs">200</text><text x="572.10" y="52.75" font-size="33.33" text-anchor="middle" textLength="236.40" lengthAdjust="spacingAndGlyphs">Fill 11318, B1 ver</text><text x="571.40" y="1063.75" font-size="33.33" text-anchor="middle" textLength="79.30" lengthAdjust="spacingAndGlyphs">f (Hz)</text><text transform="translate(51.00 520.40) rotate(-90)" text-anchor="middle" font-size="33.33" textLength="283.20" lengthAdjust="spacingAndGlyphs">UTC time 19/11/2025</text>
</svg>
</body></html>
